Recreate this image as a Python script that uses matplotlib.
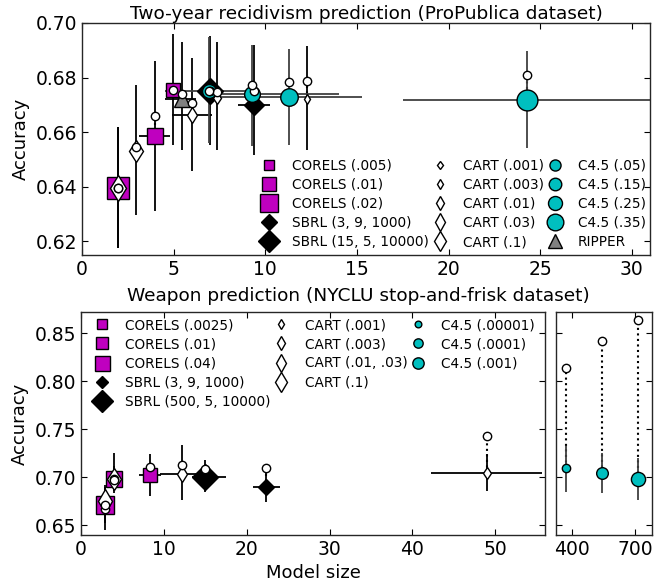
import numpy as np
import matplotlib
matplotlib.use('Agg')
import matplotlib.pyplot as plt
from matplotlib.lines import Line2D

# ---------------- Two-year recidivism (ProPublica) ----------------
rec_labels = ['CORELS (.005)', 'CORELS (.01)', 'CORELS (.02)',
              'SBRL (3, 9, 1000)', 'SBRL (15, 5, 10000)',
              'CART (.001)', 'CART (.003)', 'CART (.01)', 'CART (.03)', 'CART (.1)',
              'C4.5 (.05)', 'C4.5 (.15)', 'C4.5 (.25)', 'C4.5 (.35)', 'RIPPER']
rec_size = [4.95, 3.97, 1.97, 9.36, 7.0, 12.27, 7.36, 5.99, 2.95, 1.97, 6.95, 9.27, 11.27, 24.26, 5.45]
rec_size_lo = [4.95, 3.1, 1.97, 8.49, 6.3, 12.27, 7.36, 4.9, 2.95, 1.97, 4.5, 6.5, 7.5, 17.5, 4.5]
rec_size_hi = [4.95, 4.8, 1.97, 10.27, 7.6, 12.27, 7.36, 7.1, 2.95, 1.97, 9.3, 14.0, 15.3, 31.0, 6.2]
rec_acc = [0.6753, 0.6585, 0.6397, 0.6700, 0.6750, 0.6723, 0.6725, 0.6664, 0.6530, 0.6397,
           0.6752, 0.6738, 0.6728, 0.6719, 0.6720]
rec_acc_lo = [0.6554, 0.6312, 0.6176, 0.6517, 0.6554, 0.6536, 0.6536, 0.6456, 0.6297, 0.6176,
              0.6560, 0.6548, 0.6554, 0.6543, 0.6536]
rec_acc_hi = [0.6958, 0.6860, 0.6620, 0.6920, 0.6952, 0.6915, 0.6930, 0.6873, 0.6772, 0.6620,
              0.6950, 0.6921, 0.6905, 0.6897, 0.6930]
rec_train = [0.6753, 0.6658, 0.6397, 0.6752, 0.6752, 0.6786, 0.6747, 0.6708, 0.6544, 0.6397,
             0.6750, 0.6774, 0.6784, 0.6811, 0.6741]

# ---------------- Weapon prediction (NYCLU) ----------------
nyc_labels = ['CORELS (.0025)', 'CORELS (.01)', 'CORELS (.04)',
              'SBRL (3, 9, 1000)', 'SBRL (500, 5, 10000)',
              'CART (.001)', 'CART (.003)', 'CART (.01, .03)', 'CART (.1)',
              'C4.5 (.00001)', 'C4.5 (.0001)', 'C4.5 (.001)']
nyc_size = [8.36, 3.92, 2.9, 22.3, 15.0, 48.97, 12.2, 3.92, 2.95, 371, 543, 714]
nyc_size_lo = [7.0, 3.92, 2.9, 20.8, 13.4, 42.3, 9.5, 3.92, 2.95, 371, 543, 714]
nyc_size_hi = [9.7, 3.92, 2.9, 24.0, 17.45, 55.7, 14.0, 3.92, 2.95, 371, 543, 714]
nyc_acc = [0.702, 0.6986, 0.671, 0.690, 0.7003, 0.7045, 0.704, 0.698, 0.675, 0.710, 0.7045, 0.698]
nyc_acc_lo = [0.681, 0.684, 0.645, 0.6743, 0.6847, 0.6857, 0.676, 0.686, 0.652, 0.685, 0.684, 0.676]
nyc_acc_hi = [0.724, 0.725, 0.692, 0.706, 0.718, 0.724, 0.734, 0.712, 0.690, 0.733, 0.725, 0.720]
nyc_train = [0.7107, 0.698, 0.667, 0.7097, 0.709, 0.7434, 0.7125, 0.697, 0.671, 0.8135, 0.842, 0.8635]

# marker styles
MAG = (0.75, 0, 0.75)
CYAN = (0, 0.75, 0.75)
rec_marker = ['s', 's', 's', 'D', 'D', 'd', 'd', 'd', 'd', 'd', 'o', 'o', 'o', 'o', '^']
rec_ms = [9.6, 12, 15.6, 10, 13.6, 5.5, 6.5, 8.5, 11.5, 13, 10, 11.3, 12.6, 15, 12]
rec_col = [MAG] * 3 + ['k'] * 2 + ['w'] * 5 + [CYAN] * 4 + ['0.5']
nyc_marker = ['s', 's', 's', 'D', 'D', 'd', 'd', 'd', 'd', 'o', 'o', 'o']
nyc_ms = [9.5, 11, 13.5, 8, 13.5, 6, 8.5, 11.2, 12.7, 6, 8.4, 10.2]
nyc_col = [MAG] * 3 + ['k'] * 2 + ['w'] * 4 + [CYAN] * 3

plt.rcParams['font.family'] = 'DejaVu Sans'
plt.rcParams['xtick.direction'] = 'in'
plt.rcParams['ytick.direction'] = 'in'
plt.rcParams['xtick.top'] = True
plt.rcParams['ytick.right'] = True
plt.rcParams['xtick.major.size'] = 4.5
plt.rcParams['ytick.major.size'] = 4.5
plt.rcParams['xtick.labelsize'] = 13.5
plt.rcParams['ytick.labelsize'] = 13.5
plt.rcParams['axes.linewidth'] = 1.0
plt.rcParams['axes.edgecolor'] = '0.15'

leg_kw = dict(frameon=False, fontsize=9.8, markerscale=0.8, numpoints=1,
              columnspacing=0.0, handlelength=1.6, handletextpad=0.9,
              labelspacing=0.38)


def draw(ax, x, xlo, xhi, y, ylo, yhi, train, marker, ms, col, labels):
    handles = []
    for i in range(len(x)):
        ax.plot([x[i], x[i]], [y[i], train[i]], ':', color='k', lw=1.5, zorder=1)
        ecol = '0.25' if col[i] == CYAN else 'k'
        ax.errorbar(x[i], y[i], xerr=[[x[i] - xlo[i]], [xhi[i] - x[i]]],
                    yerr=[[y[i] - ylo[i]], [yhi[i] - y[i]]],
                    fmt='none', ecolor=ecol, elinewidth=1.3, capsize=0, zorder=2)
    for i in range(len(x)):
        h, = ax.plot(x[i], y[i], marker=marker[i], ms=ms[i], color=col[i],
                     mec='k', mew=1, ls='none', zorder=3, label=labels[i])
        handles.append(h)
    ax.plot(x, train, 'o', ms=6, mfc='w', mec='k', mew=1, ls='none', zorder=4)
    return handles


fig = plt.figure(figsize=(6.62, 5.83), dpi=100)

# top panel
ax1 = fig.add_axes([0.124, 0.5626, 0.858, 0.398])
h1 = draw(ax1, rec_size, rec_size_lo, rec_size_hi, rec_acc, rec_acc_lo, rec_acc_hi,
          rec_train, rec_marker, rec_ms, rec_col, rec_labels)
ax1.set_xlim(0, 31)
ax1.set_ylim(0.615, 0.70)
ax1.set_xticks([0, 5, 10, 15, 20, 25, 30])
ax1.set_yticks([0.62, 0.64, 0.66, 0.68, 0.70])
ax1.set_ylabel('Accuracy', fontsize=13)
ax1.set_title('Two-year recidivism prediction (ProPublica dataset)', fontsize=13.3, pad=0)
ax1.legend(handles=h1, ncol=3, loc='lower right', bbox_to_anchor=(1.014, -0.027), **leg_kw)

# bottom panels
ax2 = fig.add_axes([0.1224, 0.0823, 0.7008, 0.3825])
ax3 = fig.add_axes([0.84, 0.0823, 0.145, 0.3825])
h2 = draw(ax2, nyc_size, nyc_size_lo, nyc_size_hi, nyc_acc, nyc_acc_lo, nyc_acc_hi,
          nyc_train, nyc_marker, nyc_ms, nyc_col, nyc_labels)
draw(ax3, nyc_size, nyc_size_lo, nyc_size_hi, nyc_acc, nyc_acc_lo, nyc_acc_hi,
     nyc_train, nyc_marker, nyc_ms, nyc_col, nyc_labels)
for ax in (ax2, ax3):
    ax.set_ylim(0.64, 0.872)
    ax.set_yticks([0.65, 0.70, 0.75, 0.80, 0.85])
ax2.set_xlim(0, 56)
ax2.set_xticks([0, 10, 20, 30, 40, 50])
ax3.set_xlim(324, 781)
ax3.set_xticks([400, 700])
ax3.tick_params(labelleft=False)
ax2.set_ylabel('Accuracy', fontsize=13)
ax2.set_xlabel('Model size', fontsize=13)
fig.text(0.541, 1 - 296 / 583, 'Weapon prediction (NYCLU stop-and-frisk dataset)',
         fontsize=13.3, ha='center', va='center')

blank = Line2D([], [], ls='none', marker='none')
leg_h = h2[:5] + h2[5:9] + [blank] + h2[9:] + [blank, blank]
leg_l = nyc_labels[:5] + nyc_labels[5:9] + [''] + nyc_labels[9:] + ['', '']
ax2.legend(leg_h, leg_l, ncol=3, loc='upper left', bbox_to_anchor=(-0.005, 1.028), **leg_kw)

fig.savefig('out.png', dpi=100)
